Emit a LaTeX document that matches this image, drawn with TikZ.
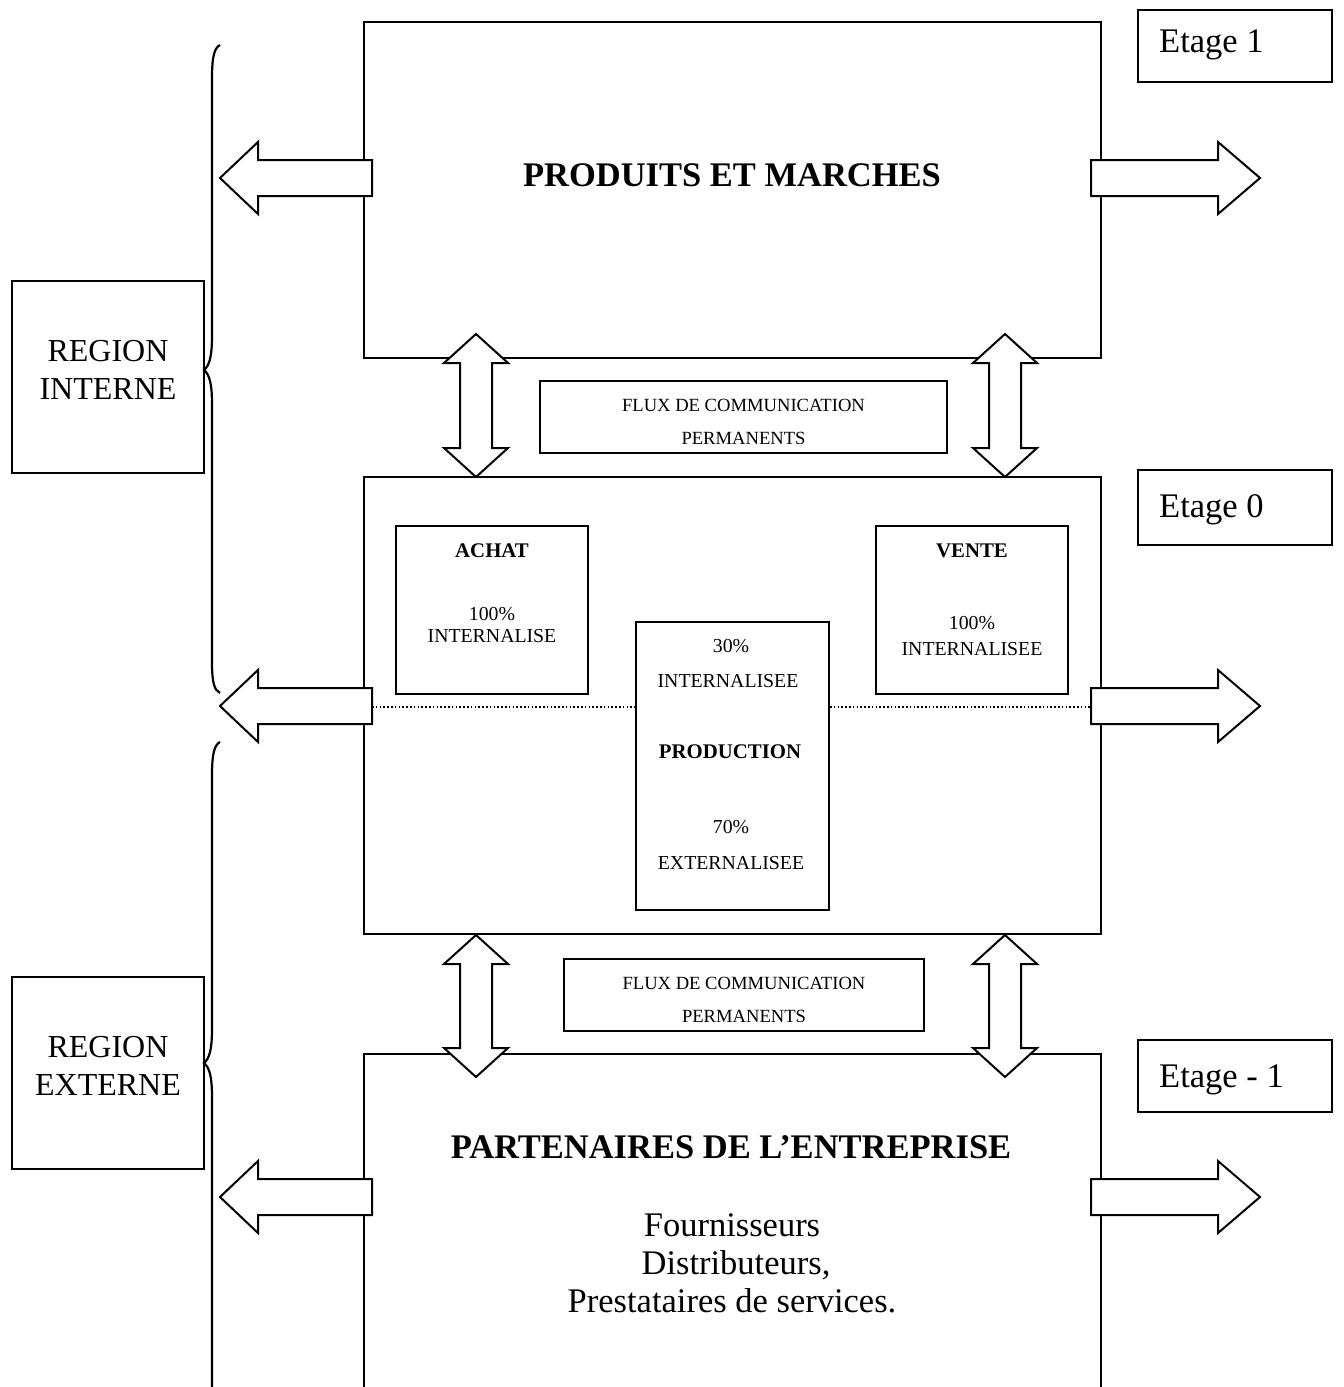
\documentclass[tikz,border=0pt]{standalone}
\usepackage{fontspec}
\setmainfont{Liberation Serif}
\begin{document}
\begin{tikzpicture}[x=1pt,y=-1pt,
  box/.style={draw,line width=2pt,inner sep=0pt},
  arr/.style={draw,fill=white,line width=2pt,line join=miter},
  ln/.style={line width=2pt},
  dotln/.style={line width=1.6pt,dash pattern=on 1.6pt off 2.2pt},
  brace/.style={line width=2.2pt},
  big/.style={font=\fontsize{34.5}{41}\selectfont},
  bigb/.style={font=\fontsize{34.5}{41}\selectfont\bfseries},
  reg/.style={font=\fontsize{32}{38}\selectfont},
  flux/.style={font=\fontsize{18.6}{22}\selectfont},
  sm/.style={font=\fontsize{19.8}{23}\selectfont},
  smb/.style={font=\fontsize{20.8}{24}\selectfont\bfseries},
  txt/.style={anchor=base,inner sep=0pt}]
\useasboundingbox (0,0) rectangle (1344,1387);

% main boxes
\node[box,minimum width=737,minimum height=336] (marches) at (732.5,190) {};
\node[box,minimum width=737,minimum height=457] (mid) at (732.5,705.5) {};
\draw[ln] (364,1390) -- (364,1054) coordinate (pbl) -- (1101,1054) coordinate (pbr) -- (1101,1390);

% etage boxes
\node[box,minimum width=194,minimum height=72] (e1) at (1235,46) {};
\node[box,minimum width=194,minimum height=75] (e0) at (1235,507.5) {};
\node[box,minimum width=194,minimum height=72] (em1) at (1235,1076) {};
\node[txt,anchor=base west,big] (e1t) at (1159,52) {Etage 1};
\node[txt,anchor=base west,big] (e0t) at (1159,517) {Etage 0};
\node[txt,anchor=base west,big] (em1t) at (1159,1087) {Etage - 1};

% region boxes
\node[box,minimum width=192,minimum height=192] (rint) at (108,377) {};
\node[box,minimum width=192,minimum height=192] (rext) at (108,1073) {};
\node[txt,reg] (ri1) at (108,361) {REGION};
\node[txt,reg] (ri2) at (108,399) {INTERNE};
\node[txt,reg] (re1) at (108,1057) {REGION};
\node[txt,reg] (re2) at (108,1095) {EXTERNE};

% braces
\draw[brace] (220,45) .. controls (214,48) and (212,58) .. (212,78) -- (212,335)
  .. controls (212,355) and (210,365) .. (204,370)
  .. controls (210,375) and (212,385) .. (212,405) -- (212,662)
  .. controls (212,682) and (214,690) .. (220,693);
\draw[brace] (220,742) .. controls (214,745) and (212,755) .. (212,775) -- (212,1028)
  .. controls (212,1048) and (210,1058) .. (204,1063)
  .. controls (210,1068) and (212,1078) .. (212,1098) -- (212,1400);

% flux boxes
\node[box,minimum width=407,minimum height=72] (flux1) at (743.5,417) {};
\node[box,minimum width=360,minimum height=72] (flux2) at (744,995) {};
\node[txt,flux] (f1a) at (743.5,411) {FLUX DE COMMUNICATION};
\node[txt,flux] (f1b) at (743.5,444) {PERMANENTS};
\node[txt,flux] (f2a) at (744,989) {FLUX DE COMMUNICATION};
\node[txt,flux] (f2b) at (744,1022) {PERMANENTS};

% inner boxes
\node[box,minimum width=192,minimum height=168] (achat) at (492,610) {};
\node[box,minimum width=192,minimum height=168] (vente) at (972,610) {};
\node[box,minimum width=193,minimum height=288] (prod) at (732.5,766) {};

\node[txt,smb] (at1) at (492,557) {ACHAT};
\node[txt,sm] (at2) at (492,620) {100\%};
\node[txt,sm] (at3) at (492,642) {INTERNALISE};
\node[txt,smb] (vt1) at (972,557) {VENTE};
\node[txt,sm] (vt2) at (972,629) {100\%};
\node[txt,sm] (vt3) at (972,655) {INTERNALISEE};
\node[txt,sm] (pt1) at (731,652) {30\%};
\node[txt,sm] (pt2) at (728,687) {INTERNALISEE};
\node[txt,smb] (pt3) at (730,758) {PRODUCTION};
\node[txt,sm] (pt4) at (731,833) {70\%};
\node[txt,sm] (pt5) at (731,869) {EXTERNALISEE};

% dotted line
\draw[dotln] (372,707) -- (prod.west |- 0,707);
\draw[dotln] (prod.east |- 0,707) -- (1091,707);

% titles
\node[txt,bigb] (t1) at (732,186) {PRODUITS ET MARCHES};
\node[txt,bigb] (t2) at (731,1158) {PARTENAIRES DE L’ENTREPRISE};
\node[txt,big] (p1) at (732,1236) {Fournisseurs};
\node[txt,big] (p2) at (736,1274) {Distributeurs,};
\node[txt,big] (p3) at (732,1312) {Prestataires de services.};

% horizontal arrows
\foreach \c in {178,706,1197} {
  \draw[arr] (220,\c) -- (258,{\c-36}) -- (258,{\c-18}) -- (372,{\c-18}) -- (372,{\c+18})
    -- (258,{\c+18}) -- (258,{\c+36}) -- cycle;
  \draw[arr] (1260,\c) -- (1218,{\c-36}) -- (1218,{\c-18}) -- (1091,{\c-18}) -- (1091,{\c+18})
    -- (1218,{\c+18}) -- (1218,{\c+36}) -- cycle;
}

% vertical double arrows
\foreach \xx in {476,1005} {
  \foreach \t/\b in {334/477,935/1077} {
    \draw[arr] (\xx,\t) -- ({\xx+32},{\t+29}) -- ({\xx+16},{\t+29}) -- ({\xx+16},{\b-29})
      -- ({\xx+32},{\b-29}) -- (\xx,\b) -- ({\xx-32},{\b-29}) -- ({\xx-16},{\b-29})
      -- ({\xx-16},{\t+29}) -- ({\xx-32},{\t+29}) -- cycle;
  }
}
\end{tikzpicture}
\end{document}
